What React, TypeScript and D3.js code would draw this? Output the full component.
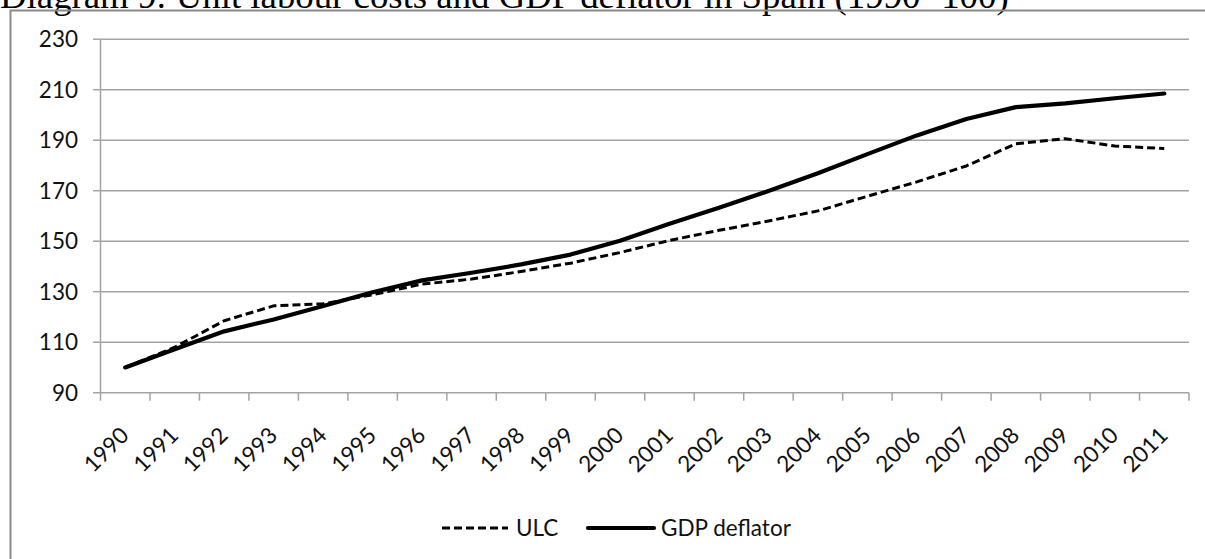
import React from "react";
import * as d3 from "d3";

// Index values, 1990 = 100
const years = [
  "1990", "1991", "1992", "1993", "1994", "1995", "1996", "1997", "1998", "1999", "2000",
  "2001", "2002", "2003", "2004", "2005", "2006", "2007", "2008", "2009", "2010", "2011",
];
const ulc = [
  100, 108, 118.5, 124.4, 125.2, 128.8, 133, 135, 138, 141.3, 145.5,
  150.3, 154.3, 158, 162, 167.8, 173.5, 179.8, 188.6, 190.6, 187.7, 186.7,
];
const gdpDeflator = [
  100, 107.2, 114.3, 119, 124.3, 129.8, 134.5, 137.5, 140.8, 144.7, 150.2,
  156.9, 163.2, 169.9, 176.9, 184.5, 191.9, 198.4, 203.1, 204.6, 206.6, 208.5,
];
const yTicks = [90, 110, 130, 150, 170, 190, 210, 230];
const legendItems = [
  { label: "ULC", dashed: true },
  { label: "GDP deflator", dashed: false },
];

const W = 1205;
const H = 559;
const plot = { left: 100.5, right: 1189, top: 39.2, bottom: 392.7 };
const axisFont = "Lato, 'Open Sans', sans-serif";
const gridColor = "#a3a3a3";
const labelSize = 22.5;

export default function App() {
  const x = d3.scaleBand<string>().domain(years).range([plot.left, plot.right]).padding(0);
  const y = d3.scaleLinear().domain([90, 230]).range([plot.bottom, plot.top]);
  const cx = (yr: string) => (x(yr) as number) + x.bandwidth() / 2;

  const line = d3
    .line<number>()
    .x((_, i) => cx(years[i]))
    .y((v) => y(v));

  const boundaries = years.map((yr) => x(yr) as number).concat([plot.right]);

  return (
    <div style={{ position: "absolute", left: 0, top: 0 }}>
      <svg width={W} height={H} style={{ display: "block", background: "#fff" }}>
        <rect x={0} y={0} width={W} height={H} fill="#fff" />
        <text
          x={0}
          y={7.5}
          fontFamily="'Liberation Serif', 'Times New Roman', serif"
          fontSize={36.8}
          fill="#000"
        >
          Diagram 9: Unit labour costs and GDP deflator in Spain (1990=100)
        </text>

        {/* chart frame */}
        <rect x={10.5} y={10.5} width={1300} height={700} fill="none" stroke="#8a8a8a" strokeWidth={2} />

        {/* horizontal gridlines and y ticks */}
        {yTicks.map((t) => (
          <g key={t}>
            <line x1={plot.left} x2={plot.right} y1={y(t)} y2={y(t)} stroke={gridColor} strokeWidth={1.5} />
            <line x1={93} x2={plot.left} y1={y(t)} y2={y(t)} stroke={gridColor} strokeWidth={1.5} />
            <text
              x={78}
              y={y(t)}
              dy="0.36em"
              textAnchor="end"
              fontFamily={axisFont}
              fontSize={labelSize}
              fill="#111"
            >
              {t}
            </text>
          </g>
        ))}

        {/* y axis line */}
        <line x1={plot.left} x2={plot.left} y1={plot.top} y2={plot.bottom} stroke={gridColor} strokeWidth={1.5} />

        {/* x axis ticks at category boundaries */}
        {boundaries.map((bx, i) => (
          <line key={i} x1={bx} x2={bx} y1={plot.bottom} y2={plot.bottom + 8} stroke={gridColor} strokeWidth={1.5} />
        ))}

        {/* x labels */}
        {years.map((yr) => (
          <text
            key={yr}
            transform={`translate(${cx(yr) + 5},${plot.bottom + 44}) rotate(-45)`}
            textAnchor="end"
            fontFamily={axisFont}
            fontSize={labelSize}
            fill="#111"
          >
            {yr}
          </text>
        ))}

        {/* series */}
        <path
          d={line(gdpDeflator) as string}
          fill="none"
          stroke="#000"
          strokeWidth={4.2}
          strokeLinejoin="round"
          strokeLinecap="round"
        />
        <path
          d={line(ulc) as string}
          fill="none"
          stroke="#000"
          strokeWidth={3}
          strokeDasharray="8 4"
          strokeLinejoin="round"
        />

        {/* legend */}
        <g>
          <line x1={442} x2={508} y1={528} y2={528} stroke="#000" strokeWidth={3} strokeDasharray="8 4" />
          <text x={516} y={528} dy="0.36em" fontFamily={axisFont} fontSize={labelSize} fill="#111">
            {legendItems[0].label}
          </text>
          <line x1={588} x2={654} y1={528} y2={528} stroke="#000" strokeWidth={4.2} strokeLinecap="round" />
          <text x={661} y={528} dy="0.36em" fontFamily={axisFont} fontSize={labelSize} fill="#111">
            {legendItems[1].label}
          </text>
        </g>
      </svg>
    </div>
  );
}
